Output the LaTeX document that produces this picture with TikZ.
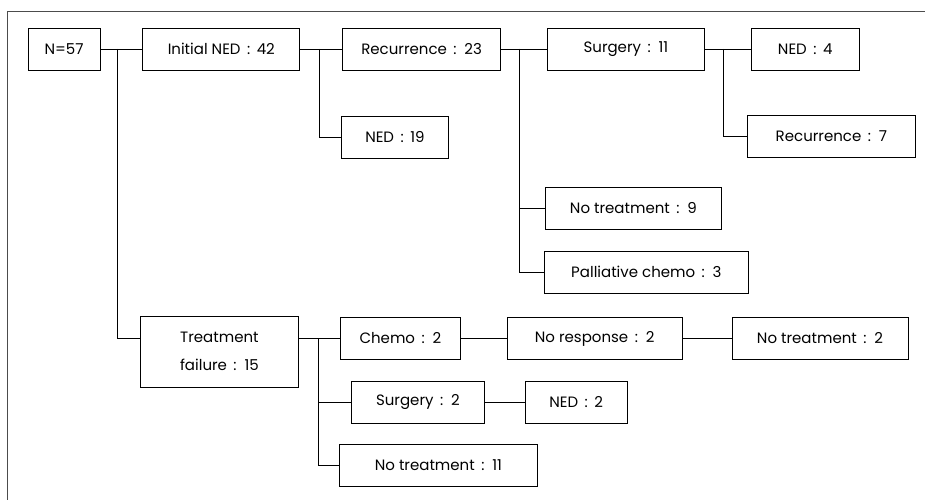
\documentclass[tikz,border=0pt]{standalone}
\usepackage{fontspec}
\setmainfont{Poppins}
\usetikzlibrary{positioning}
\tikzset{
	% box style
	box/.style={
		rectangle,
		draw=black, line width=0.8pt,
		minimum height=42pt,
		inner sep=2pt,
		font=\fontsize{15}{17}\selectfont
	},
	% connector style
	link/.style={
		line width=0.7pt
	}
}

\begin{document}
\begin{tikzpicture}[x=1pt, y=1pt]
	\useasboundingbox (0,0) rectangle (925,500);
	% frame
	\coordinate (frametop) at (925,489);
	\coordinate (framecorner) at (7,489);
	\coordinate (framebottom) at (7,0);
	\draw[black!70, line width=0.8pt] (frametop) -- (framecorner) -- (framebottom);

	% first row
	\node[box, minimum width=72pt] (n57) at (64,451) {N=57};
	\node[box, minimum width=157pt, right=42pt of n57] (ined)
		{Initial NED \,:\, 42};
	\node[box, minimum width=158pt, right=42pt of ined] (rec23)
		{Recurrence \,:\, 23};
	\node[box, minimum width=157pt, right=46pt of rec23] (surg11)
		{Surgery \,:\, 11};
	\node[box, minimum width=108pt, right=46pt of surg11] (ned4)
		{NED \,:\, 4};

	% recurrence branches
	\node[box, minimum width=107pt, anchor=west] (ned19) at (341,363)
		{NED \,:\, 19};
	\node[box, minimum width=168pt, anchor=west] (rec7) at (747,363.5)
		{Recurrence \,:\, 7};
	\node[box, minimum width=176pt, anchor=west] (notr9) at (545,292)
		{No treatment \,:\, 9};
	\node[box, minimum width=204pt, anchor=west] (pall3) at (544,228)
		{Palliative chemo \,:\, 3};

	% treatment failure branches
	\node[box, minimum width=158pt, minimum height=71pt, align=center,
		anchor=west] (tf15) at (140,148.5)
		{Treatment \\[11pt] failure \,:\, 15};
	\node[box, minimum width=120pt, anchor=west] (chemo2) at (340,161.5)
		{Chemo \,:\, 2};
	\node[box, minimum width=175pt, right=46pt of chemo2] (noresp2)
		{No response \,:\, 2};
	\node[box, minimum width=176pt, right=49pt of noresp2] (notr2)
		{No treatment \,:\, 2};
	\node[box, minimum width=133pt, anchor=west] (surg2) at (351,97.5)
		{Surgery \,:\, 2};
	\node[box, minimum width=102pt, right=40pt of surg2] (ned2)
		{NED \,:\, 2};
	\node[box, minimum width=198pt, anchor=west] (notr11) at (339,35)
		{No treatment \,:\, 11};

	% junctions
	\coordinate (j0) at (117,451);
	\coordinate (j1) at (319,451);
	\coordinate (j2) at (519,451);
	\coordinate (j3) at (723,451);
	\coordinate (j4) at (318,161.5);

	\draw[link] (n57) -- (ined);
	\draw[link] (j0) |- (tf15.west |- chemo2);
	\draw[link] (ined) -- (rec23);
	\draw[link] (j1) |- (ned19);
	\draw[link] (rec23) -- (surg11);
	\draw[link] (j2) |- (notr9);
	\draw[link] (j2) |- (pall3);
	\draw[link] (surg11) -- (ned4);
	\draw[link] (j3) |- (rec7);
	\draw[link] (tf15.east |- chemo2) -- (chemo2);
	\draw[link] (j4) |- (surg2);
	\draw[link] (j4) |- (notr11);
	\draw[link] (chemo2) -- (noresp2);
	\draw[link] (noresp2) -- (notr2);
	\draw[link] (surg2) -- (ned2);
\end{tikzpicture}
\end{document}
